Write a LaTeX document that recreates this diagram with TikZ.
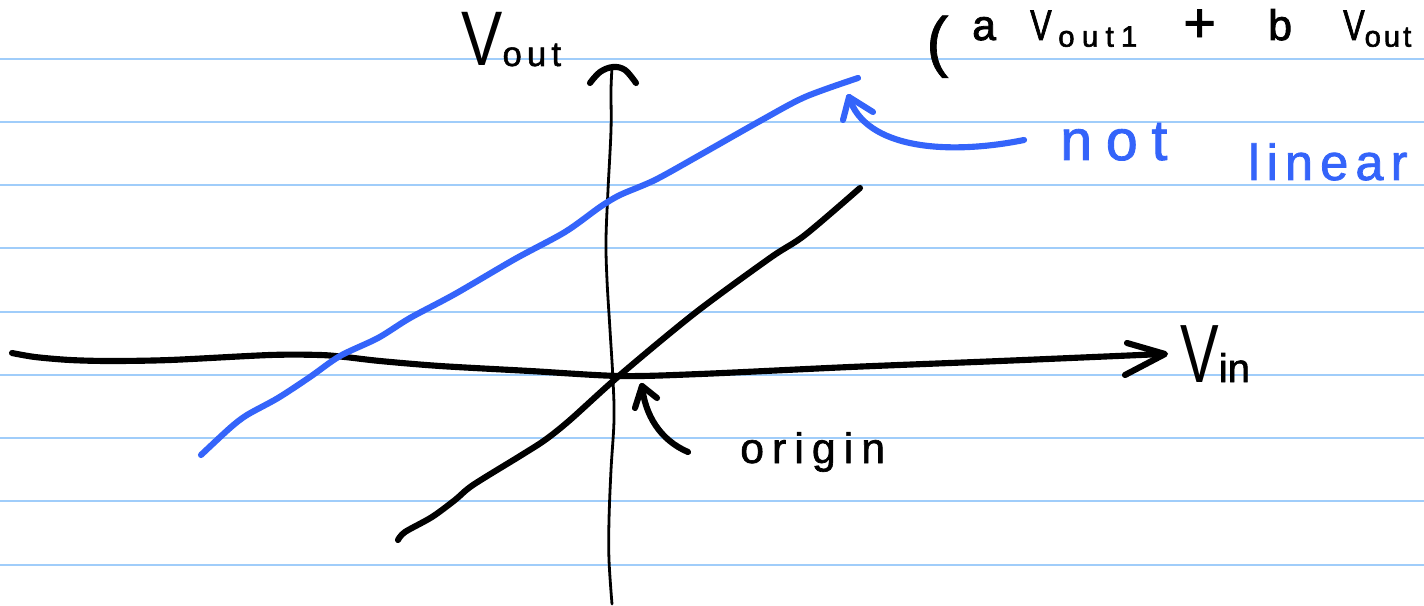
\documentclass[tikz,border=0pt]{standalone}
\usepackage{graphicx}
\usepackage{fontspec}
\setmainfont{Liberation Sans}
\definecolor{ruleblue}{RGB}{160,205,250}
\definecolor{penblue}{RGB}{52,100,250}
\newcommand{\fs}[1]{\fontsize{#1}{#1}\selectfont}
\newcommand{\tallV}[1]{\scalebox{#1}[1]{V}}
\newcommand{\pen}[1]{\addfontfeature{FakeBold=#1}}
\begin{document}
\begin{tikzpicture}[x=0.75pt,y=-0.75pt,
  rule/.style={draw=ruleblue, line width=1.3pt},
  ink/.style={draw=black, line width=4.6pt, line cap=round, line join=round},
  thinink/.style={draw=black, line width=2.1pt, line cap=round},
  blueink/.style={draw=penblue, line width=4.6pt, line cap=round, line join=round},
  hand/.style={inner sep=0pt, anchor=base west, text=black},
  bluehand/.style={hand, text=penblue}]
\useasboundingbox (0,0) rectangle (1424,606);
\fill[white] (0,0) rectangle (1424,606);
% ruled paper
\foreach \y in {59,122,185,248,312,375,438,501,565} \draw[rule] (0,\y) -- (1424,\y);

% vertical axis (Vout)
\draw[thinink] plot[smooth, tension=0.6] coordinates {(612,604) (609,560) (609,520) (611,470) (614,420) (613,380) (610,330) (607,280) (606,240) (608,190) (611,130) (611,90) (612,68)};
\draw[ink] plot[smooth, tension=0.6] coordinates {(590,83) (600,72) (613,67) (625,70) (636,83)};

% horizontal axis (Vin)
\draw[ink] plot[smooth, tension=0.5] coordinates {(12,353) (35,357) (70,360) (110,361) (170,360) (270,355) (320,355) (345,357) (380,361) (440,366) (530,371) (620,376) (700,374) (850,367) (1000,361) (1163,354)};
\draw[ink] (1127,343) -- (1165,354) -- (1125,375);

% linear black line
\draw[ink] plot[smooth, tension=0.5] coordinates {(398,540) (405,532) (432,517) (455,500) (473,485) (520,456) (545,440) (570,420) (620,375) (695,313) (770,258) (805,235) (860,188)};

% not linear blue line
\draw[blueink] plot[smooth, tension=0.5] coordinates {(201,455) (230,428) (247,415) (278,398) (310,377) (340,356) (378,338) (410,318) (455,294) (515,259) (565,232) (600,207) (620,195) (655,180) (700,155) (760,121) (805,97) (858,78)};

% labels
\node[hand] (vout) at (461,66) {\fs{58}\tallV{0.8}\fs{26}\pen{1.5}\addfontfeature{LetterSpace=15}out};
\node[hand] (vin) at (1180,382) {\fs{62}\tallV{0.7}\fs{30}\pen{1.5}in};
\node[hand] (origin) at (740,463) {\fs{32}\pen{1.5}\addfontfeature{LetterSpace=19}origin};
\node[bluehand] (notw) at (1060,160) {\fs{43}\pen{1.5}\addfontfeature{LetterSpace=24}not};
\node[bluehand] (linear) at (1248,180) {\fs{38}\pen{1.5}\addfontfeature{LetterSpace=14}linear};

% top row
\node[hand] (paren) at (926,64) {\fs{50}\pen{1}(};
\node[hand] (ta) at (972,40) {\fs{32}\pen{2}a};
\node[hand] (tv1) at (1030,40) {\fs{32}\pen{2}\tallV{0.75}\hspace{5pt}\raisebox{-5pt}{\fs{22}\pen{2}\addfontfeature{LetterSpace=25}out1}};
\node[hand] (tplus) at (1183,42) {\fs{42}\pen{1.5}+};
\node[hand] (tb) at (1268,40) {\fs{32}\pen{2}b};
\node[hand] (tv2) at (1343,40) {\fs{32}\pen{2}\tallV{0.75}\raisebox{-5pt}{\fs{22}\pen{2}\addfontfeature{LetterSpace=10}out}};

% arrow to the blue line
\coordinate (blueStart) at (1024,140);
\coordinate (blueTip) at (849,97);
\draw[blueink] (blueStart) .. controls (950,155) and (865,150) .. (blueTip);
\draw[blueink] (843,120) -- (blueTip) -- (873,112);

% arrow to the origin
\coordinate (originStart) at (688,452);
\coordinate (originTip) at (642,386);
\draw[ink] (originStart) .. controls (660,440) and (645,415) .. (originTip);
\draw[ink] (635,408) -- (originTip) -- (657,398);
\end{tikzpicture}
\end{document}
